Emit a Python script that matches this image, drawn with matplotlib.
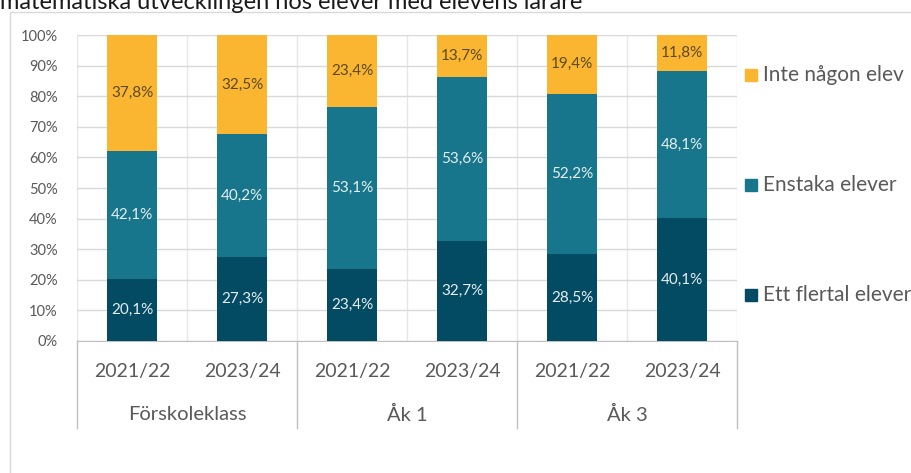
import matplotlib.pyplot as plt
from matplotlib.patches import Rectangle
from matplotlib.lines import Line2D

plt.rcParams['font.family'] = ['Lato', 'DejaVu Sans']

# data
years = ['2021/22', '2023/24', '2021/22', '2023/24', '2021/22', '2023/24']
groups = ['Förskoleklass', 'Åk 1', 'Åk 3']
flertal = [20.1, 27.3, 23.4, 32.7, 28.5, 40.1]
enstaka = [42.1, 40.2, 53.1, 53.6, 52.2, 48.1]
ingen = [37.8, 32.5, 23.4, 13.7, 19.4, 11.8]
series_names = ['Ett flertal elever', 'Enstaka elever', 'Inte någon elev']
colors = ['#034b63', '#17768b', '#fbb631']
label_colors = ['#e6eef1', '#e6eef1', '#5b4a1e']

W, H = 912, 473
fig = plt.figure(figsize=(W / 100, H / 100), dpi=100)

# outer chart frame and title line (cut at the top edge, as in the source)
fig.patches.append(Rectangle((10 / W, -0.05), 1.0, 1 - 12 / H + 0.05, transform=fig.transFigure,
                             fill=False, edgecolor='#d9d9d9', lw=1.0))
fig.text(0.0, 1 - 9 / H, 'matematiska utvecklingen hos elever med elevens lärare',
         fontsize=17, color='#1a1a1a', va='baseline', ha='left')

ax = fig.add_axes([77 / W, 1 - 341 / H, 660 / W, 306 / H])
x = list(range(len(years)))
bottom = [0] * len(years)
for vals, name, c, lc in zip([flertal, enstaka, ingen], series_names, colors, label_colors):
    ax.bar(x, vals, bottom=bottom, width=0.455, color=c, label=name, zorder=3)
    for xi, v, b in zip(x, vals, bottom):
        ax.text(xi, b + v / 2, f'{v:.1f}%'.replace('.', ','), ha='center', va='center',
                fontsize=11, color=lc, zorder=4)
    bottom = [b + v for b, v in zip(bottom, vals)]

ax.set_xlim(-0.5, 5.5)
ax.set_ylim(0, 100)
ax.set_yticks(range(0, 101, 10))
ax.set_yticklabels([f'{t}%' for t in range(0, 101, 10)], fontsize=10.5, color='#595959')
ax.set_xticks([])
ax.set_xticks([i - 0.5 for i in range(7)], minor=True)
ax.tick_params(axis='y', length=0, pad=14)
ax.tick_params(axis='x', which='both', length=0)
ax.grid(axis='y', color='#d9d9d9', lw=1, zorder=0)
ax.grid(axis='x', which='minor', color='#e6e6e6', lw=1, zorder=0)
for s in ['left', 'right', 'top']:
    ax.spines[s].set_visible(False)
ax.spines['bottom'].set_color('#bfbfbf')

# category labels below the axis
trans = ax.get_xaxis_transform()
for xi, y in zip(x, years):
    ax.text(xi, -31 / 306, y, transform=trans, ha='center', va='center',
            fontsize=14, color='#595959', clip_on=False)
for gi, g in enumerate(groups):
    ax.text(2 * gi + 0.5, -74 / 306, g, transform=trans, ha='center', va='center',
            fontsize=14.5, color='#595959', clip_on=False)
for xs in [-0.5, 1.5, 3.5, 5.5]:
    ax.add_line(Line2D([xs, xs], [0, -87 / 306], transform=trans, color='#bfbfbf',
                       lw=1, clip_on=False))

# legend
leg_y = [295, 185, 75]
for name, c, yy in zip(series_names, colors, leg_y):
    fig.patches.append(Rectangle((745 / W, 1 - (yy + 6) / H), 12 / W, 12 / H,
                                 transform=fig.transFigure, color=c))
    fig.text(763 / W, 1 - yy / H, name, fontsize=15, color='#595959', va='center', ha='left')

fig.savefig('out.png', dpi=100)
